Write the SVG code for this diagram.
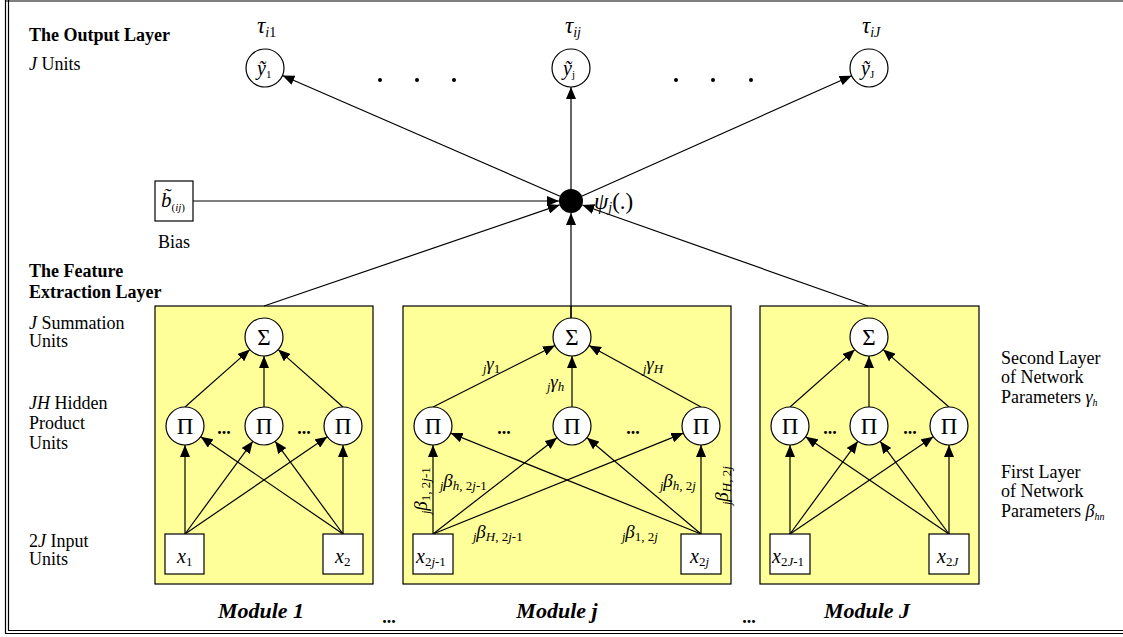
<svg xmlns="http://www.w3.org/2000/svg" width="1123" height="637" viewBox="0 0 1123 637" font-family="'Liberation Serif', 'Times New Roman', serif">
<defs>
<style>
text, tspan{font-family:'Liberation Serif','Times New Roman',serif}
text{fill:#000}
.ln{stroke:#000;stroke-width:1.2;fill:none}
.ar{stroke:#000;stroke-width:1.2;fill:none;marker-end:url(#ah)}
.nd{fill:#fff;stroke:#000;stroke-width:1.2}
.mod{fill:#FFFF99;stroke:#000;stroke-width:1.2}
.lbl{font-size:18px}
.bold{font-weight:bold}
.it{font-style:italic}
.sym{font-size:23px;text-anchor:middle}
.dots{font-size:18px;font-weight:bold;text-anchor:middle}
.mlab{font-size:22px;font-weight:bold;font-style:italic;text-anchor:middle}
</style>
<marker id="ah" markerWidth="12" markerHeight="10" refX="12" refY="5" orient="auto" markerUnits="userSpaceOnUse"><path d="M0,0 L12,5 L0,10 z" fill="#000"/></marker>
</defs>
<rect width="1123" height="637" fill="#fff"/>
<g id="frame">
<line class="ln" x1="5.5" y1="0" x2="5.5" y2="633.5"/>
<line class="ln" x1="8.5" y1="0" x2="8.5" y2="630.5"/>
<line class="ln" x1="5" y1="1" x2="1123" y2="1"/>
<line class="ln" x1="8" y1="630.5" x2="1123" y2="630.5"/>
<line class="ln" x1="5" y1="633.5" x2="1123" y2="633.5"/>
</g>
<g id="module-boxes">
<rect id="module1-box" class="mod" x="155" y="306" width="218" height="278"/>
<rect id="modulej-box" class="mod" x="403" y="306" width="328" height="278"/>
<rect id="moduleJ-box" class="mod" x="760" y="306" width="219" height="278"/>
</g>
<g id="connectors">
<line class="ar" x1="571" y1="201" x2="282.5" y2="75.5"/>
<line class="ar" x1="571" y1="201" x2="571" y2="87"/>
<line class="ar" x1="571" y1="201" x2="851.6" y2="75.7"/>
<line class="ar" x1="193" y1="201" x2="559" y2="201"/>
<line class="ar" x1="264" y1="306" x2="559.7" y2="204.9"/>
<line class="ar" x1="571" y1="318" x2="571" y2="213"/>
<line class="ln" x1="571" y1="306" x2="571" y2="318"/>
<line class="ar" x1="868" y1="306" x2="582.3" y2="205"/>
<line class="ar" x1="185" y1="407" x2="249.8" y2="349.6"/>
<line class="ar" x1="264" y1="407" x2="264" y2="356"/>
<line class="ar" x1="343" y1="407" x2="278.2" y2="349.6"/>
<line class="ar" x1="185" y1="534" x2="185" y2="445"/>
<line class="ar" x1="185" y1="534" x2="252.8" y2="441.3"/>
<line class="ar" x1="185" y1="534" x2="327.3" y2="436.7"/>
<line class="ar" x1="343" y1="534" x2="343" y2="445"/>
<line class="ar" x1="343" y1="534" x2="275.2" y2="441.3"/>
<line class="ar" x1="343" y1="534" x2="200.7" y2="436.7"/>
<line class="ar" x1="433" y1="407" x2="555" y2="345.5"/>
<line class="ar" x1="572" y1="407" x2="572" y2="356"/>
<line class="ar" x1="701" y1="407" x2="589" y2="345.5"/>
<line class="ar" x1="433" y1="534" x2="433" y2="445"/>
<line class="ar" x1="433" y1="534" x2="557" y2="437.7"/>
<line class="ar" x1="433" y1="534" x2="683.4" y2="433.1"/>
<line class="ar" x1="701" y1="534" x2="701" y2="445"/>
<line class="ar" x1="701" y1="534" x2="587" y2="437.7"/>
<line class="ar" x1="701" y1="534" x2="450.6" y2="433.1"/>
<line class="ar" x1="790" y1="407" x2="854.8" y2="349.6"/>
<line class="ar" x1="869" y1="407" x2="869" y2="356"/>
<line class="ar" x1="949" y1="407" x2="883.2" y2="349.6"/>
<line class="ar" x1="790" y1="534" x2="790" y2="445"/>
<line class="ar" x1="790" y1="534" x2="857.8" y2="441.3"/>
<line class="ar" x1="790" y1="534" x2="933.3" y2="436.7"/>
<line class="ar" x1="949" y1="534" x2="949" y2="445"/>
<line class="ar" x1="949" y1="534" x2="880.2" y2="441.3"/>
<line class="ar" x1="949" y1="534" x2="805.7" y2="436.7"/>
</g>
<g id="out1">
<circle class="nd" cx="265" cy="68" r="19"/>
<text x="257" y="75" font-size="20" class="it">ỹ<tspan font-size="11" font-style="normal" dy="3">1</tspan></text>
<text x="257" y="33" font-size="23" class="it">τ<tspan font-size="14" dy="4">i</tspan><tspan font-size="14" font-style="normal">1</tspan></text>
</g>
<g id="outj">
<circle class="nd" cx="571" cy="68" r="19"/>
<text x="563" y="75" font-size="20" class="it">ỹ<tspan font-size="11" font-style="normal" dy="3">j</tspan></text>
<text x="565" y="33" font-size="23" class="it">τ<tspan font-size="14" dy="4">ij</tspan></text>
</g>
<g id="outJ">
<circle class="nd" cx="869" cy="68" r="19"/>
<text x="861" y="75" font-size="20" class="it">ỹ<tspan font-size="11" font-style="normal" dy="3">J</tspan></text>
<text x="862" y="33" font-size="23" class="it">τ<tspan font-size="14" dy="4">iJ</tspan></text>
</g>
<g id="out-dots">
<circle cx="380" cy="80" r="2"/><circle cx="417" cy="80" r="2"/><circle cx="454" cy="80" r="2"/>
<circle cx="676" cy="80" r="2"/><circle cx="713" cy="80" r="2"/><circle cx="751" cy="80" r="2"/>
</g>
<g id="psi-node">
<circle cx="571" cy="201" r="12" fill="#000"/>
<text x="594" y="209" font-size="23" class="it">ψ<tspan font-size="14" dy="3">j</tspan><tspan font-style="normal" dy="-3">(.)</tspan></text>
</g>
<g id="bias">
<rect class="nd" x="155" y="181" width="38" height="40"/>
<text x="161" y="207" font-size="21" class="it">b&#x303;<tspan font-size="11" dy="4"><tspan font-style="normal">(</tspan>ij<tspan font-style="normal">)</tspan></tspan></text>
<text x="158" y="248" class="lbl">Bias</text>
</g>
<g id="left-labels">
<text x="29" y="41" font-size="18" class="bold">The Output Layer</text>
<text x="29" y="70" class="lbl"><tspan class="it">J</tspan> Units</text>
<text x="29" y="277" font-size="18" class="bold">The Feature</text>
<text x="29" y="298" font-size="18" class="bold">Extraction Layer</text>
<text x="29" y="329" class="lbl"><tspan class="it">J</tspan>  Summation</text>
<text x="29" y="347" class="lbl">Units</text>
<text x="29" y="409" class="lbl"><tspan class="it">JH</tspan> Hidden</text>
<text x="29" y="429" class="lbl">Product</text>
<text x="29" y="449" class="lbl">Units</text>
<text x="29" y="547" class="lbl">2<tspan class="it">J</tspan> Input</text>
<text x="29" y="565" class="lbl">Units</text>
</g>
<g id="right-labels">
<text x="1001" y="364" class="lbl">Second Layer</text>
<text x="1001" y="383" class="lbl">of Network</text>
<text x="1001" y="403" class="lbl">Parameters <tspan class="it">γ</tspan><tspan font-size="10" class="it" dy="3">h</tspan></text>
<text x="1001" y="478" class="lbl">First Layer</text>
<text x="1001" y="497" class="lbl">of Network</text>
<text x="1001" y="517" class="lbl">Parameters <tspan class="it">β</tspan><tspan font-size="10" class="it" dy="3">hn</tspan></text>
</g>
<g id="m1-sigma"><circle class="nd" cx="264" cy="337" r="19"/><text x="264" y="345" class="sym">Σ</text></g>
<g id="m1-pi1"><circle class="nd" cx="185" cy="426" r="19"/><text x="185" y="434" class="sym">Π</text></g>
<g id="m1-pi2"><circle class="nd" cx="264" cy="426" r="19"/><text x="264" y="434" class="sym">Π</text></g>
<g id="m1-pi3"><circle class="nd" cx="343" cy="426" r="19"/><text x="343" y="434" class="sym">Π</text></g>
<text x="224" y="434" class="dots">...</text>
<text x="304" y="434" class="dots">...</text>
<g id="m1-x1"><rect class="nd" x="165" y="534" width="39" height="40"/><text x="177" y="563" font-size="20" class="it">x<tspan font-size="13" font-style="normal" dy="3">1</tspan></text></g>
<g id="m1-x2"><rect class="nd" x="323" y="534" width="40" height="40"/><text x="335" y="563" font-size="20" class="it">x<tspan font-size="13" font-style="normal" dy="3">2</tspan></text></g>
<g id="mj-sigma"><circle class="nd" cx="572" cy="337" r="19"/><text x="572" y="345" class="sym">Σ</text></g>
<g id="mj-pi1"><circle class="nd" cx="433" cy="426" r="19"/><text x="433" y="434" class="sym">Π</text></g>
<g id="mj-pi2"><circle class="nd" cx="572" cy="426" r="19"/><text x="572" y="434" class="sym">Π</text></g>
<g id="mj-pi3"><circle class="nd" cx="701" cy="426" r="19"/><text x="701" y="434" class="sym">Π</text></g>
<text x="504" y="434" class="dots">...</text>
<text x="633" y="434" class="dots">...</text>
<g id="mj-x1"><rect class="nd" x="413" y="534" width="40" height="40"/><text x="416" y="563" font-size="20" class="it">x<tspan font-size="13" dy="3"><tspan font-style="normal">2</tspan>j<tspan font-style="normal">-1</tspan></tspan></text></g>
<g id="mj-x2"><rect class="nd" x="681" y="534" width="40" height="40"/><text x="690" y="563" font-size="20" class="it">x<tspan font-size="13" dy="3"><tspan font-style="normal">2</tspan>j</tspan></text></g>
<g id="mj-weights" class="it">
<text x="483" y="370" font-size="19"><tspan font-size="12" dy="3">j</tspan><tspan dy="-3">γ</tspan><tspan font-size="13" font-style="normal" dy="3">1</tspan></text>
<text x="547" y="388" font-size="19"><tspan font-size="12" dy="3">j</tspan><tspan dy="-3">γ</tspan><tspan font-size="13" dy="3">h</tspan></text>
<text x="643" y="370" font-size="19"><tspan font-size="12" dy="3">j</tspan><tspan dy="-3">γ</tspan><tspan font-size="13" dy="3">H</tspan></text>
<text x="440" y="487" font-size="19"><tspan font-size="12" dy="3">j</tspan><tspan dy="-3">β</tspan><tspan font-size="13" dy="3">h<tspan font-style="normal">, 2</tspan>j<tspan font-style="normal">-1</tspan></tspan></text>
<text x="473" y="538" font-size="19"><tspan font-size="12" dy="3">j</tspan><tspan dy="-3">β</tspan><tspan font-size="13" dy="3">H<tspan font-style="normal">, 2</tspan>j<tspan font-style="normal">-1</tspan></tspan></text>
<text x="622" y="538" font-size="19"><tspan font-size="12" dy="3">j</tspan><tspan dy="-3">β</tspan><tspan font-size="13" font-style="normal" dy="3">1, 2<tspan font-style="italic">j</tspan></tspan></text>
<text x="660" y="487" font-size="19"><tspan font-size="12" dy="3">j</tspan><tspan dy="-3">β</tspan><tspan font-size="13" dy="3">h<tspan font-style="normal">, 2</tspan>j</tspan></text>
<text transform="translate(427,514) rotate(-90)" font-size="19"><tspan font-size="12" dy="3">j</tspan><tspan dy="-3">β</tspan><tspan font-size="13" font-style="normal" dy="3">1, 2<tspan font-style="italic">j</tspan>-1</tspan></text>
<text transform="translate(728,505) rotate(-90)" font-size="19"><tspan font-size="12" dy="3">j</tspan><tspan dy="-3">β</tspan><tspan font-size="13" dy="3">H<tspan font-style="normal">, 2</tspan>j</tspan></text>
</g>
<g id="mJ-sigma"><circle class="nd" cx="869" cy="337" r="19"/><text x="869" y="345" class="sym">Σ</text></g>
<g id="mJ-pi1"><circle class="nd" cx="790" cy="426" r="19"/><text x="790" y="434" class="sym">Π</text></g>
<g id="mJ-pi2"><circle class="nd" cx="869" cy="426" r="19"/><text x="869" y="434" class="sym">Π</text></g>
<g id="mJ-pi3"><circle class="nd" cx="949" cy="426" r="19"/><text x="949" y="434" class="sym">Π</text></g>
<text x="830" y="434" class="dots">...</text>
<text x="910" y="434" class="dots">...</text>
<g id="mJ-x1"><rect class="nd" x="770" y="534" width="40" height="40"/><text x="772" y="563" font-size="20" class="it">x<tspan font-size="13" dy="3"><tspan font-style="normal">2</tspan>J<tspan font-style="normal">-1</tspan></tspan></text></g>
<g id="mJ-x2"><rect class="nd" x="929" y="534" width="40" height="40"/><text x="937" y="563" font-size="20" class="it">x<tspan font-size="13" dy="3"><tspan font-style="normal">2</tspan>J</tspan></text></g>
<g id="module-labels">
<text x="261" y="618" class="mlab">Module 1</text>
<text x="557" y="618" class="mlab">Module j</text>
<text x="867" y="618" class="mlab">Module J</text>
<text x="389" y="623" class="dots">...</text>
<text x="749" y="623" class="dots">...</text>
</g>
</svg>
